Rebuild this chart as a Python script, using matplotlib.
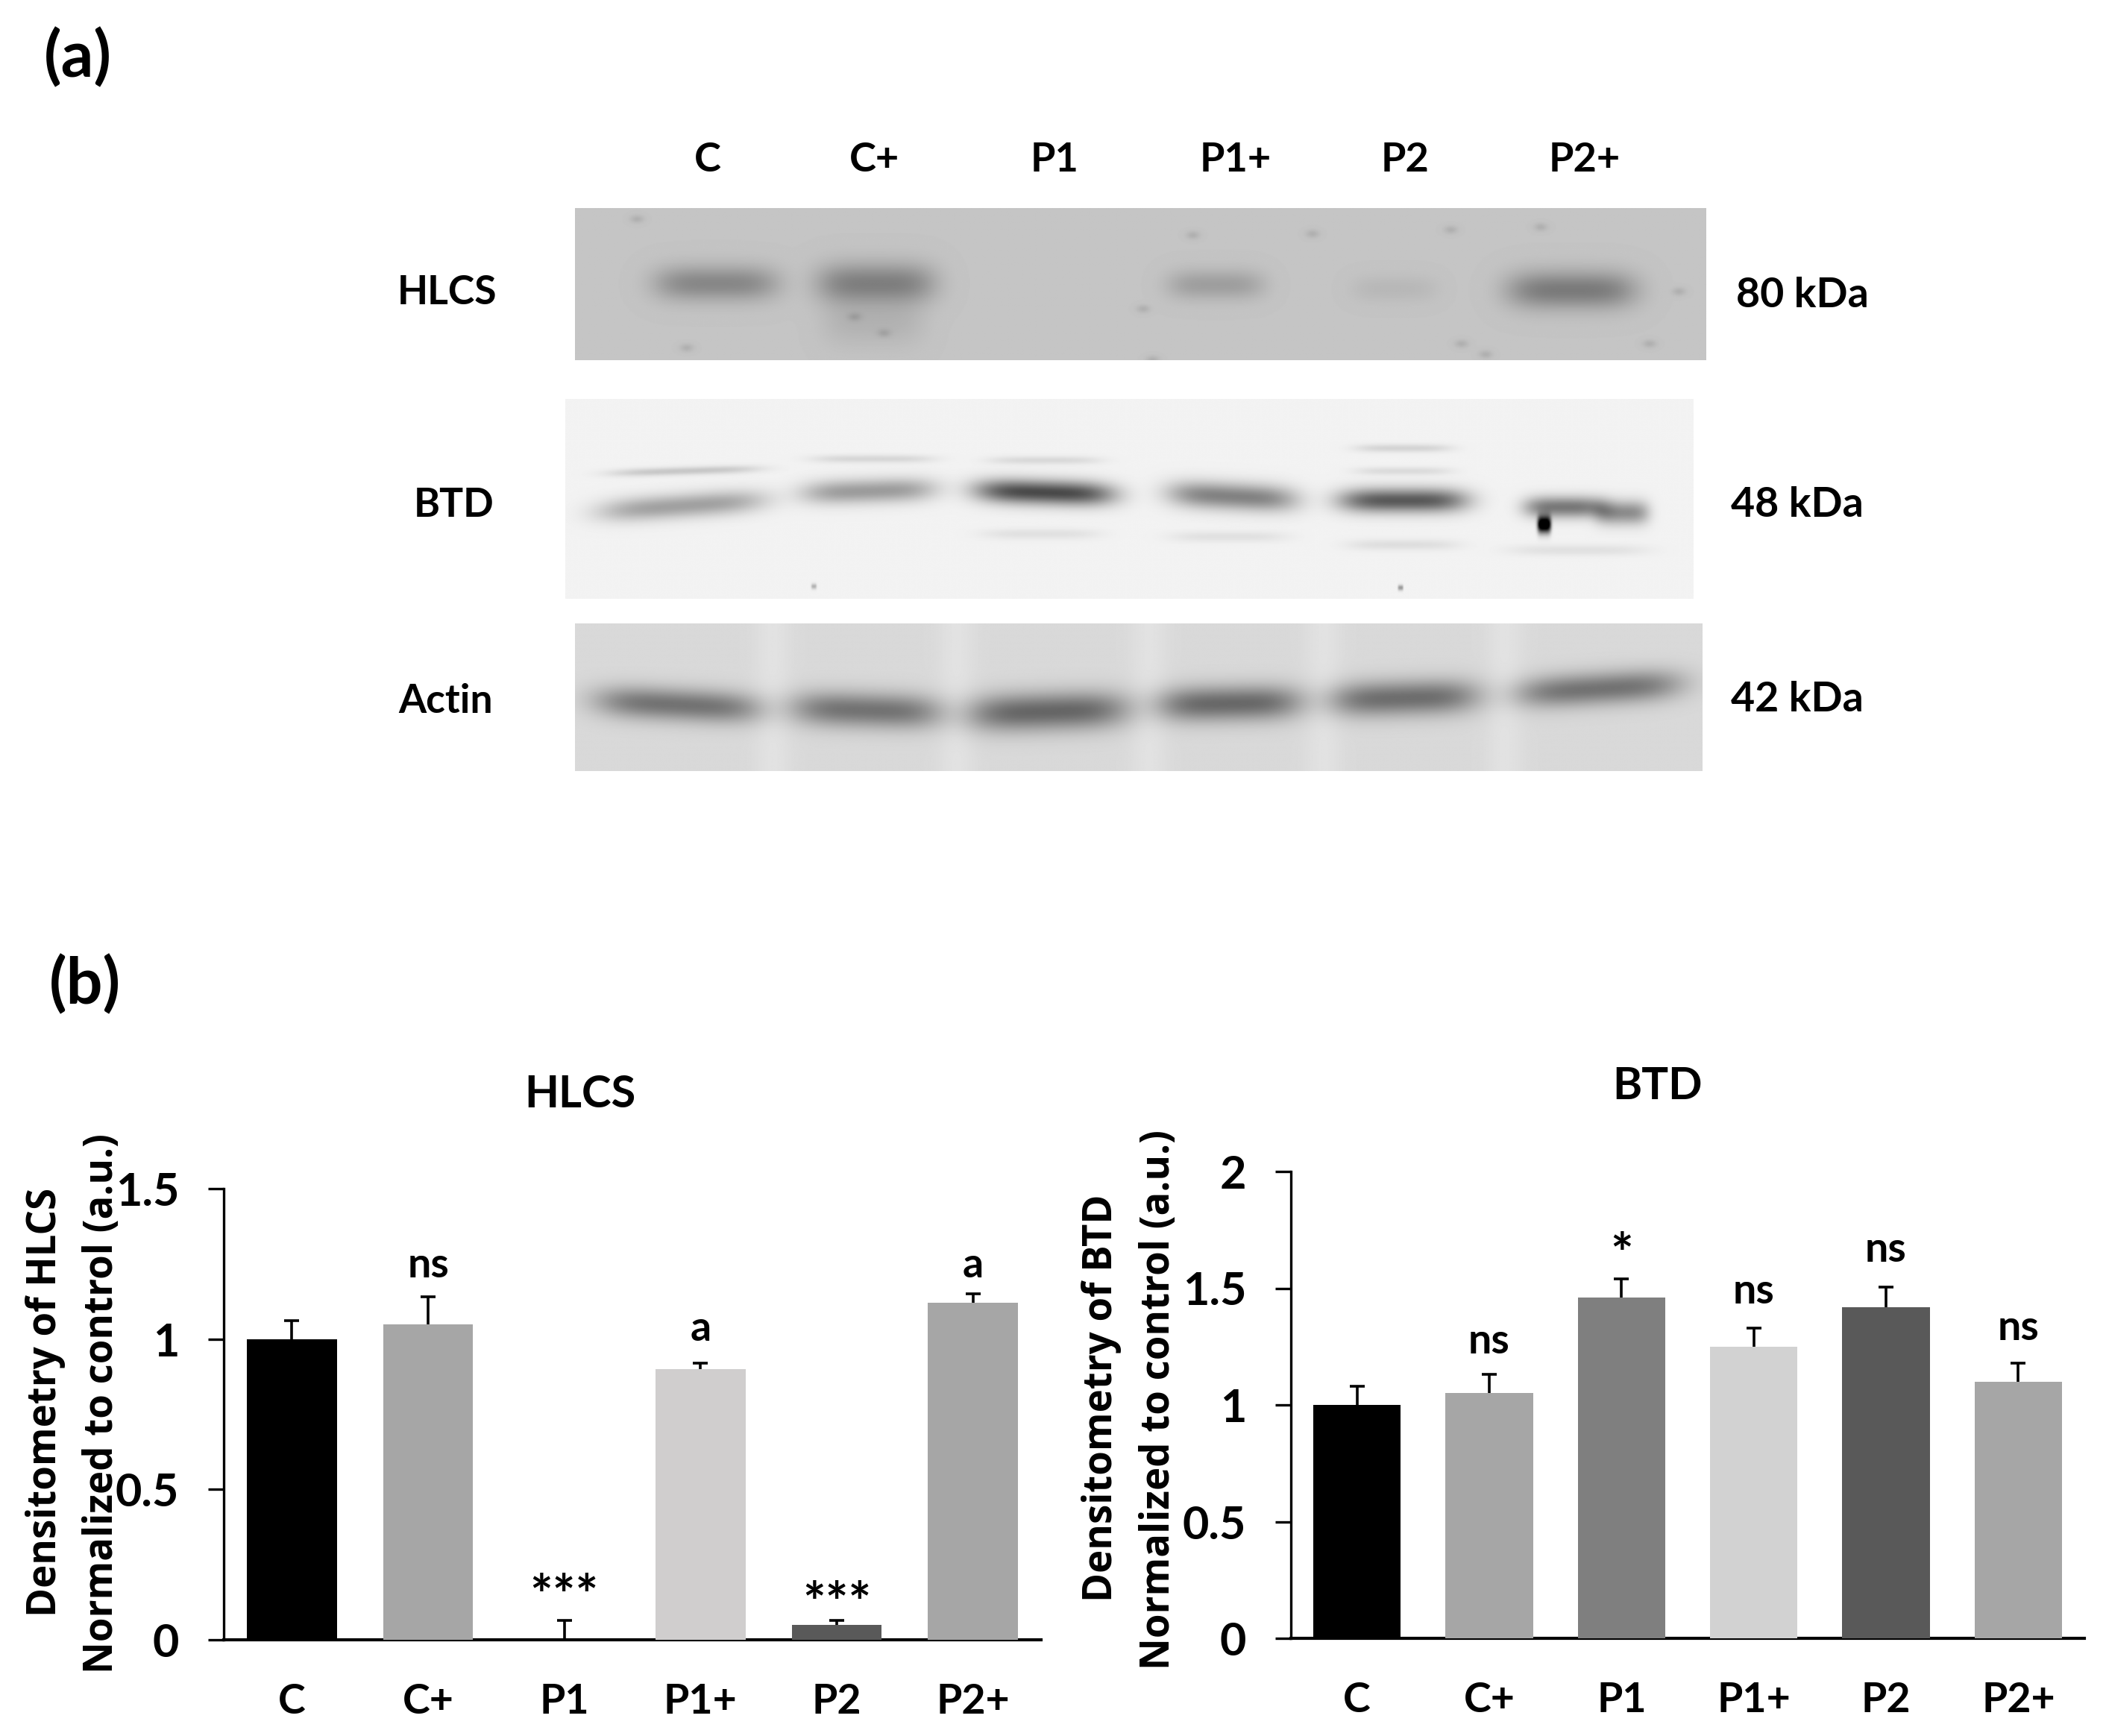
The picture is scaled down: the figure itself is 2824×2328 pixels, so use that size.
import numpy as np
import matplotlib
matplotlib.use('Agg')
import matplotlib.pyplot as plt

plt.rcParams['font.family'] = ['Lato', 'DejaVu Sans']
plt.rcParams['font.weight'] = 'bold'

W, H = 2824, 2328
S = 2824 / 1568

groups = ['C', 'C+', 'P1', 'P1+', 'P2', 'P2+']

hlcs_values = [1.0, 1.05, 0.0, 0.9, 0.05, 1.12]
hlcs_errors = [0.06, 0.09, 0.065, 0.02, 0.015, 0.03]
hlcs_colors = ['#000000', '#a6a6a6', '#ffffff', '#d0cece', '#595959', '#a6a6a6']
hlcs_marks = ['', 'ns', '***', 'a', '***', 'a']
hlcs_mark_y = [0, 1.245, 0.135, 1.035, 0.11, 1.245]
hlcs_ticks = [0, 0.5, 1, 1.5]
hlcs_tick_labels = ['0', '0.5', '1', '1.5']

btd_values = [1.0, 1.05, 1.46, 1.25, 1.42, 1.10]
btd_errors = [0.08, 0.08, 0.08, 0.08, 0.085, 0.08]
btd_colors = ['#000000', '#a6a6a6', '#7f7f7f', '#d2d2d2', '#595959', '#a6a6a6']
btd_marks = ['', 'ns', '*', 'ns', 'ns', 'ns']
btd_mark_y = [0, 1.27, 1.63, 1.487, 1.666, 1.33]
btd_ticks = [0, 0.5, 1, 1.5, 2]
btd_tick_labels = ['0', '0.5', '1', '1.5', '2']

# blot bands: x, y, half width, half thickness, darkness, tilt
hlcs_bands = [
    (533, 211, 46, 13, 0.24, 0), (652, 211, 44, 15, 0.27, 0),
    (650, 240, 38, 18, 0.07, 0), (905, 212, 36, 11, 0.15, 0),
    (1038, 215, 32, 10, 0.05, 0), (1170, 216, 48, 14, 0.29, 0),
]
hlcs_specks = [(658, 248), (858, 268), (1147, 169), (888, 175), (977, 174),
               (1080, 171), (511, 259), (1106, 264), (1228, 256), (1250, 217),
               (636, 236), (474, 163), (851, 230), (1088, 256)]
btd_bands = [
    (508, 377, 62, 9, 0.32, -0.07), (510, 351, 56, 3, 0.17, -0.03),
    (647, 366, 50, 9, 0.34, -0.03), (650, 342, 46, 3, 0.11, 0),
    (778, 367, 52, 9, 0.66, 0.03), (778, 343, 42, 3, 0.10, 0),
    (775, 398, 44, 4, 0.07, 0), (918, 370, 48, 10, 0.44, 0.05),
    (915, 400, 44, 4, 0.07, 0), (1045, 373, 48, 9, 0.60, 0),
    (1045, 334, 36, 3, 0.12, 0), (1045, 351, 36, 3, 0.09, 0),
    (1045, 406, 42, 4, 0.08, 0), (1165, 378, 30, 8, 0.48, 0),
    (1208, 382, 20, 9, 0.40, 0), (1175, 410, 52, 4, 0.07, 0),
    (1150, 391, 5, 6, 1.2, 0), (606, 437, 2, 2, 0.25, 0), (1043, 438, 2, 2, 0.35, 0),
]
actin_bands = [
    (505, 525, 62, 12, 0.40, 0.05), (645, 529, 56, 13, 0.40, 0.03),
    (780, 530, 60, 14, 0.45, -0.03), (915, 524, 54, 13, 0.44, -0.02),
    (1045, 520, 56, 13, 0.42, -0.03), (1190, 513, 62, 12, 0.40, -0.06),
]
actin_gaps = [575, 712, 855, 985, 1120]

# blot box: left, right, top, bottom, background grey
hlcs_box = (428, 1270, 155, 268, 0.77)
btd_box = (421, 1261, 297, 446, 0.95)
actin_box = (428, 1267, 464, 574, 0.85)

lane_labels_x = [527, 651, 785, 920, 1046, 1180]
blot_names = [('HLCS', 333, 216), ('BTD', 338, 374), ('Actin', 332, 520)]
kda_labels = [('80 kDa', 1342, 218), ('48 kDa', 1338, 374), ('42 kDa', 1338, 519)]


def px_text(fig, x, y, s, **kw):
    fig.text(x * S / W, 1 - y * S / H, s, ha='center', va='center', **kw)


def draw_blot(fig, box, bands, gaps=(), specks=()):
    x0, x1, y0, y1, grey = box
    ax = fig.add_axes([x0 * S / W, 1 - y1 * S / H, (x1 - x0) * S / W, (y1 - y0) * S / H])
    xs = np.linspace(x0, x1, int((x1 - x0) * 2))
    ys = np.linspace(y0, y1, int((y1 - y0) * 2))
    xx, yy = np.meshgrid(xs, ys)
    img = np.full(xx.shape, grey)
    for gx in gaps:
        img += 0.035 * np.exp(-((xx - gx) / 14) ** 2)
    for bx, by, hw, ht, dark, tilt in bands:
        cy = by + tilt * (xx - bx)
        img -= dark * np.exp(-((xx - bx) / hw) ** 4) * np.exp(-((yy - cy) / ht) ** 2)
    for sx, sy in specks:
        img -= 0.08 * np.exp(-((xx - sx) / 5) ** 2 - ((yy - sy) / 3) ** 2)
    ax.imshow(np.clip(img, 0, 1), cmap='gray', vmin=0, vmax=1, aspect='auto',
              extent=(x0, x1, y1, y0), interpolation='bilinear')
    ax.axis('off')


def draw_bars(fig, rect, values, errors, colors, marks, mark_y, ymax, ticks, tick_labels):
    left, right, top, bottom = rect
    ax = fig.add_axes([left / W, 1 - bottom / H, (right - left) / W, (bottom - top) / H])
    x = np.arange(len(values))
    tops = np.array(values) + np.array(errors)
    ax.vlines(x, values, tops, color='black', linewidth=2.6, zorder=2)
    ax.plot(x, tops, linestyle='none', marker='_', markersize=15, markeredgewidth=2.6,
            color='black', zorder=2, clip_on=False)
    ax.bar(x, values, width=0.66, color=colors, zorder=3)
    ax.set_xlim(-0.5, 5.5)
    ax.set_ylim(0, ymax)
    ax.set_xticks(x)
    ax.set_xticklabels(groups, fontsize=40)
    ax.set_yticks(ticks)
    ax.set_yticklabels(tick_labels, fontsize=44)
    ax.tick_params(axis='x', length=0, pad=42)
    ax.tick_params(axis='y', length=15, width=2.4, pad=28)
    ax.spines['top'].set_visible(False)
    ax.spines['right'].set_visible(False)
    ax.spines['left'].set_linewidth(2.4)
    ax.spines['bottom'].set_linewidth(3)
    for i, m in enumerate(marks):
        if m:
            size = 52 if '*' in m else 40
            ax.text(i, mark_y[i], m, ha='center', va='center', fontsize=size, zorder=4)


fig = plt.figure(figsize=(W / 100, H / 100), dpi=100)

px_text(fig, 58, 43, '(a)', fontsize=62)
px_text(fig, 63, 733, '(b)', fontsize=62)

for lx, g in zip(lane_labels_x, groups):
    px_text(fig, lx, 119, g, fontsize=39)
for name, nx, ny in blot_names:
    px_text(fig, nx, ny + 2, name, fontsize=38.5)
for name, nx, ny in kda_labels:
    px_text(fig, nx, ny + 2, name, fontsize=40)

draw_blot(fig, hlcs_box, hlcs_bands, specks=hlcs_specks)
draw_blot(fig, btd_box, btd_bands)
draw_blot(fig, actin_box, actin_bands, actin_gaps)

draw_bars(fig, (300, 1396, 1594, 2199), hlcs_values, hlcs_errors, hlcs_colors,
          hlcs_marks, hlcs_mark_y, 1.5, hlcs_ticks, hlcs_tick_labels)
draw_bars(fig, (1731, 2795, 1571, 2197), btd_values, btd_errors, btd_colors,
          btd_marks, btd_mark_y, 2, btd_ticks, btd_tick_labels)

px_text(fig, 432, 815, 'HLCS', fontsize=43)
px_text(fig, 1234, 809, 'BTD', fontsize=43)

ylab_font = {'family': ['Open Sans', 'DejaVu Sans'], 'fontsize': 38, 'rotation': 90}
px_text(fig, 34, 1044, 'Densitometry of HLCS', **ylab_font)
px_text(fig, 76, 1045, 'Normalized to control (a.u.)', **ylab_font)
px_text(fig, 820, 1041, 'Densitometry of BTD', **ylab_font)
px_text(fig, 863, 1042, 'Normalized to control (a.u.)', **ylab_font)

fig.savefig('out.png', dpi=100, facecolor='white')
